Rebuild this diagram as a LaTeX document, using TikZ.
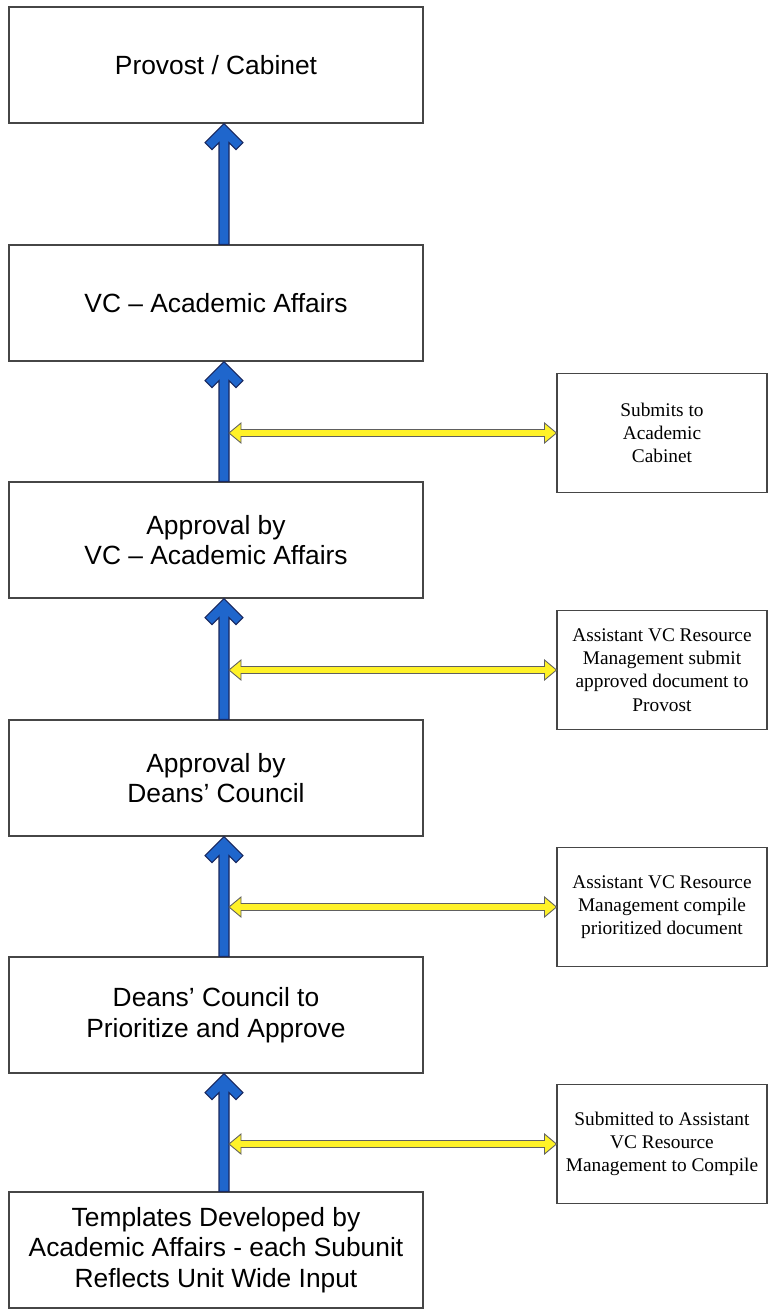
\documentclass[tikz,border=0pt]{standalone}
\usepackage{fontspec}
\setmainfont{Liberation Serif}
\setsansfont{Liberation Sans}
\usepackage{tikz}
\usetikzlibrary{calc}

\definecolor{arrowblue}{RGB}{31,102,204}
\definecolor{arrowedge}{RGB}{25,40,95}
\definecolor{arrowyellow}{RGB}{255,242,40}
\definecolor{boxline}{RGB}{70,70,70}

\tikzset{
  stagebox/.style={draw=boxline, line width=0.65pt, minimum width=8.28cm, minimum height=2.32cm,
    inner sep=0pt, align=center, font=\sffamily\fontsize{15}{17.5}\selectfont},
  notebox/.style={draw=boxline, line width=0.6pt, minimum width=4.2cm, minimum height=2.38cm,
    inner sep=0pt, align=center, font=\fontsize{11}{13.2}\selectfont},
  uparrow/.style={fill=arrowblue, draw=arrowedge, line width=0.6pt, line join=miter},
  sidearrow/.style={fill=arrowyellow, draw=gray!75!black, line width=0.5pt, line join=miter}
}

% fat blue arrow from box #1 up to box #2
\newcommand{\blueup}[2]{%
  \filldraw[uparrow] ($(#2.south)+(8,0)$) coordinate (tip) -- ++(19,19) -- ++(-7,7) -- ++(-7,-7)
    -- ($(#1.north)+(13,0)$) -- ($(#1.north)+(3,0)$) -- ($(tip)+(-5,19)$)
    -- ++(-7,7) -- ++(-7,-7) -- cycle;
}
% yellow double arrow from the blue spine to note box #1
\newcommand{\yellowboth}[1]{%
  \filldraw[sidearrow] (spine |- #1.west) coordinate (l) -- ++(12,-10) -- ++(0,6.5)
    -- ($(#1.west)+(-12,-3.5)$) -- ++(0,-6.5) -- (#1.west) -- ++(-12,10) -- ++(0,-6.5)
    -- ($(l)+(12,3.5)$) -- ++(0,6.5) -- cycle;
}

\begin{document}
\begin{tikzpicture}[x=0.02cm, y=-0.02cm]
    \fill[white] (0,0) rectangle (768,1309);
    \useasboundingbox (0,0) rectangle (768,1309);
    % stages, bottom one first in the flow
    \node[stagebox] (provost)    at (216,65)   {Provost / Cabinet};
    \node[stagebox] (vcaa)       at (216,303)  {VC -- Academic Affairs};
    \node[stagebox] (approvalvc) at (216,540)  {Approval by\\VC -- Academic Affairs};
    \node[stagebox] (approvaldc) at (216,778)  {Approval by\\Deans’ Council};
    \node[stagebox] (deans)      at (216,1015) {Deans’ Council to\\Prioritize and Approve};
    \node[stagebox] (templates)  at (216,1250) {Templates Developed by\\Academic Affairs - each Subunit\\Reflects Unit Wide Input};
    % side notes
    \node[notebox] (cabinetnote) at (662,433)  {Submits to\\Academic\\Cabinet};
    \node[notebox] (provostnote) at (662,670)  {Assistant VC Resource\\Management submit\\approved document to\\Provost};
    \node[notebox] (compilenote) at (662,907)  {Assistant VC Resource\\Management compile\\prioritized document};
    \node[notebox] (submitnote)  at (662,1144) {Submitted to Assistant\\VC Resource\\Management to Compile};
    % right edge of the blue arrows
    \coordinate (spine) at ($(templates.north)+(13,0)$);
    % draw the blue arrows between the stages
    \foreach \lo/\hi in {templates/deans, deans/approvaldc, approvaldc/approvalvc, approvalvc/vcaa, vcaa/provost} {
        \blueup{\lo}{\hi}
    }
    % draw the yellow arrows to the notes
    \foreach \n in {cabinetnote, provostnote, compilenote, submitnote} {
        \yellowboth{\n}
    }
\end{tikzpicture}
\end{document}
